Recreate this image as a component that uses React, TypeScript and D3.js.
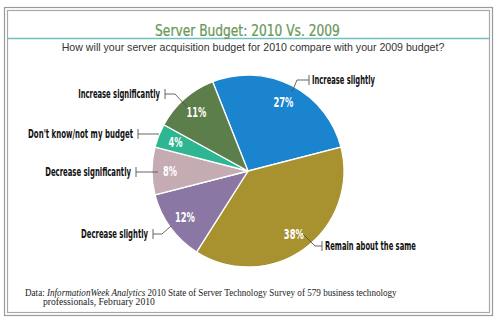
import React, { useLayoutEffect, useRef, useState } from "react";
import * as d3 from "d3";

const categories = [
  "Increase slightly",
  "Remain about the same",
  "Decrease slightly",
  "Decrease significantly",
  "Don't know/not my budget",
  "Increase significantly",
];
const values = [27, 38, 12, 8, 4, 11];
const sliceColors = ["#1b84cf", "#a8912f", "#8a77a4", "#c5acb2", "#2db691", "#5b7e4b"];

const titleText = "Server Budget: 2010 Vs. 2009";
const subtitleText = "How will your server acquisition budget for 2010 compare with your 2009 budget?";

// Callout layout (relative to pie centre): leader points, text anchor side, text width
const callouts = [
  { pts: [[44, -79], [49, -91], [61, -91]], side: "right", w: 63 },
  { pts: [[55, 63], [67, 75], [74, 75]], side: "right", w: 91 },
  { pts: [[-77, 55], [-86, 63], [-95, 63]], side: "left", w: 67 },
  { pts: [[-90, 1], [-112, 1]], side: "left", w: 86 },
  { pts: [[-89, -37], [-110, -37]], side: "left", w: 105 },
  { pts: [[-60, -63], [-73, -77], [-83, -77]], side: "left", w: 82 },
];

const W = 500;
const H = 325;
const cx = 248;
const cy = 171;
const R = 96;

const narrow = "'Liberation Sans Narrow', 'DejaVu Sans Condensed', 'Arial Narrow', sans-serif";
const serif = "'Liberation Serif', 'DejaVu Serif', serif";

type FitProps = {
  x: number;
  y: number;
  width: number;
  anchor?: "start" | "middle" | "end";
  children: React.ReactNode;
  [k: string]: any;
};

function FitText({ x, y, width, anchor = "start", children, ...rest }: FitProps) {
  const ref = useRef<SVGTextElement>(null);
  const [s, setS] = useState(1);
  useLayoutEffect(() => {
    if (ref.current) {
      const len = ref.current.getComputedTextLength();
      if (len > 0) setS(width / len);
    }
  }, [width]);
  return (
    <g transform={`translate(${x},${y}) scale(${s},1)`}>
      <text ref={ref} x={0} y={0} textAnchor={anchor} {...rest}>
        {children}
      </text>
    </g>
  );
}

export default function App() {
  const pie = d3
    .pie<number>()
    .sort(null)
    .value((d) => d)
    .startAngle(-0.06 * 2 * Math.PI)
    .endAngle(0.94 * 2 * Math.PI);
  const arcs = pie(values);
  const arc = d3.arc<d3.PieArcDatum<number>>().innerRadius(0).outerRadius(R);
  const labelArc = d3.arc<d3.PieArcDatum<number>>().innerRadius(78).outerRadius(78);
  const line = d3.line();

  return (
    <svg
      width={W}
      height={H}
      style={{ position: "absolute", left: 0, top: 0, background: "#fff" }}
    >
      <rect x={0} y={0} width={W} height={H} fill="#fff" />
      {/* double frame */}
      <rect x={4.5} y={7.5} width={488} height={308} fill="none" stroke="#9a9a9a" strokeWidth={1.2} />
      <rect x={7.5} y={10.5} width={482} height={302} fill="none" stroke="#a8a8a8" strokeWidth={1.2} />
      {/* teal rule */}
      <line x1={8} x2={489} y1={38.5} y2={38.5} stroke="#74bfc2" strokeWidth={1.6} />
      <FitText
        x={247.5}
        y={36}
        width={185}
        anchor="middle"
        fontFamily={narrow}
        fontSize={15}
        fill="#6a985a"
        stroke="#6a985a"
        strokeWidth={0.25}
      >
        {titleText}
      </FitText>
      <FitText
        x={253}
        y={50.5}
        width={383}
        anchor="middle"
        fontFamily="'Liberation Sans', Arial, sans-serif"
        fontSize={10.5}
        fill="#333"
      >
        {subtitleText}
      </FitText>

      <g transform={`translate(${cx},${cy})`}>
        {arcs.map((a, i) => (
          <path key={i} d={arc(a) || ""} fill={sliceColors[i]} stroke="#fff" strokeWidth={1.3} />
        ))}
        {arcs.map((a, i) => {
          const [x, y] = labelArc.centroid(a);
          const txt = `${values[i]}%`;
          return (
            <FitText
              key={"p" + i}
              x={x}
              y={y + 5}
              width={txt.length === 3 ? 20 : 14}
              anchor="middle"
              fontFamily={narrow}
              fontWeight="bold"
              fontSize={14}
              fill="#fff"
            >
              {txt}
            </FitText>
          );
        })}
        {callouts.map((c, i) => {
          const end = c.pts[c.pts.length - 1];
          const right = c.side === "right";
          return (
            <g key={"c" + i}>
              <path
                d={line(c.pts as [number, number][]) || ""}
                fill="none"
                stroke="#555"
                strokeWidth={0.9}
              />
              <line x1={end[0]} x2={end[0]} y1={end[1] - 5} y2={end[1] + 5} stroke="#555" strokeWidth={0.9} />
              <FitText
                x={right ? end[0] + 3 : end[0] - 5}
                y={end[1] + 4}
                width={c.w}
                anchor={right ? "start" : "end"}
                fontFamily={narrow}
                fontWeight="bold"
                fontSize={12}
                fill="#111"
              >
                {categories[i]}
              </FitText>
            </g>
          );
        })}
      </g>

      <FitText x={25} y={295.5} width={372} fontFamily={serif} fontSize={9.5} fill="#222">
        Data: <tspan fontStyle="italic">InformationWeek Analytics</tspan> 2010 State of Server Technology Survey of 579 business technology
      </FitText>
      <FitText x={43} y={305} width={112} fontFamily={serif} fontSize={9.5} fill="#222">
        professionals, February 2010
      </FitText>
    </svg>
  );
}
